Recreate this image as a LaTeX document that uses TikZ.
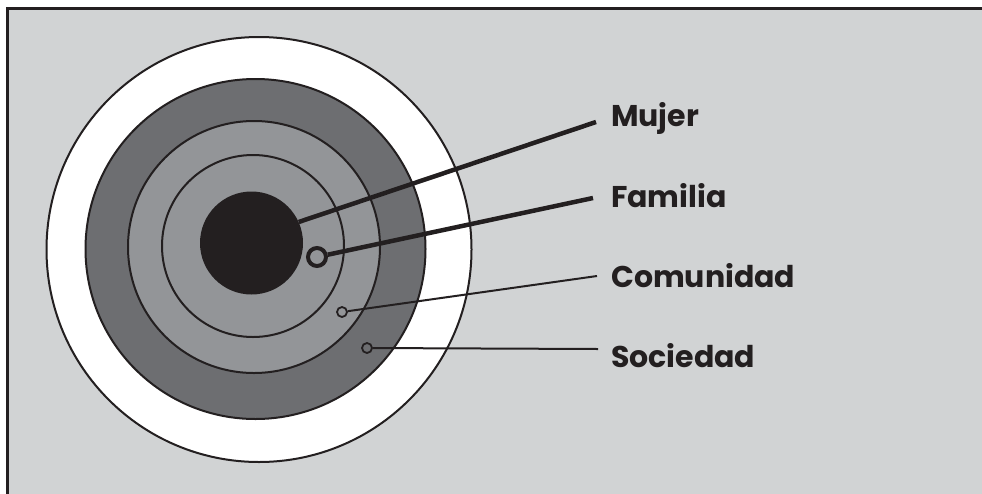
\documentclass[tikz,border=0pt]{standalone}
\usepackage{fontspec}
\setmainfont{Poppins}
\usepackage{xcolor}

\definecolor{paperGray}{HTML}{D1D3D4}
\definecolor{darkGray}{HTML}{6D6E71}
\definecolor{midGray}{HTML}{939598}
\definecolor{inkBlack}{HTML}{231F20}

\begin{document}
\begin{tikzpicture}[x=1pt, y=-1pt,
    dot/.style={circle, draw=inkBlack, line width=1.8, inner sep=0, minimum size=10},
    ringdot/.style={circle, draw=inkBlack, line width=4, inner sep=0, minimum size=18},
    tag/.style={anchor=base west, inner sep=0, text=inkBlack, font=\fontsize{30}{36}\selectfont\bfseries},
    thickline/.style={draw=inkBlack, line width=4.5},
    thinline/.style={draw=inkBlack, line width=2}]

    %% Circles of influence

    \newcommand{\layer}[4]{
        \filldraw[fill=#4, draw=inkBlack, line width=2] (#1,#2) circle (#3);
    }

    \useasboundingbox (0,0) rectangle (982,493);
    \clip (0,0) rectangle (982,493);

    % Frame
    \draw[fill=paperGray, draw=inkBlack, line width=3] (7.5,8.5) rectangle (1000,520);

    \begin{scope}
        % Layers
        \layer{259}{249.5}{212.5}{white}
        \layer{255.5}{249}{170}{darkGray}
        \layer{254}{247}{126}{midGray}
        \layer{253}{246}{91}{midGray}
        \node[circle, fill=inkBlack, inner sep=0, minimum size=103] (mujer) at (251.5,243) {};

        % Markers
        \node[ringdot] (familia) at (317,257) {};
        \node[dot] (comunidad) at (342,312) {};
        \node[dot] (sociedad) at (367,348) {};
    \end{scope}

    % Labels
    \begin{scope}
        \node[tag] (labelMujer) at (611,126) {Mujer};
        \node[tag] (labelFamilia) at (611,207) {Familia};
        \node[tag] (labelComunidad) at (611,287) {Comunidad};
        \node[tag] (labelSociedad) at (611,367) {Sociedad};

        \coordinate (endMujer) at (596,122);
        \coordinate (endFamilia) at (593,198);
        \coordinate (endComunidad) at (597,276);
        \coordinate (endSociedad) at (598,349);

        \draw[thickline] (mujer.24) -- (endMujer);
        \draw[thickline] (familia) -- (endFamilia);
        \draw[thinline] (comunidad) -- (endComunidad);
        \draw[thinline] (sociedad) -- (endSociedad);
    \end{scope}

\end{tikzpicture}
\end{document}
